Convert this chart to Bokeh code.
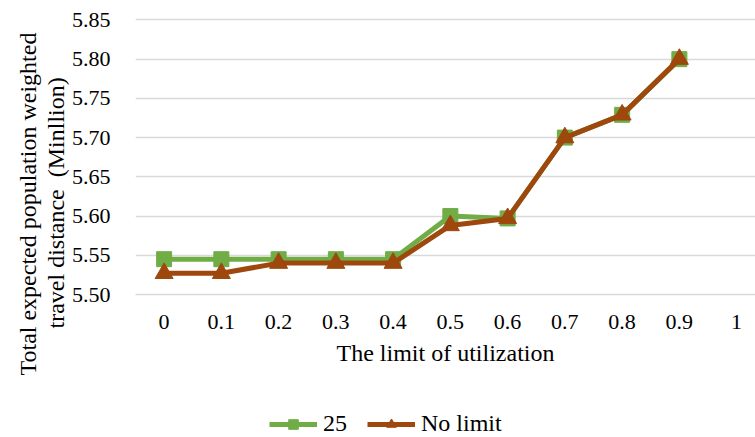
from bokeh.plotting import figure
from bokeh.layouts import column
from bokeh.models import Range1d, FixedTicker, Legend, LegendItem, Title
from bokeh.embed import file_html
from bokeh.resources import INLINE

# Utilization limits along the x axis
categories = ["0", "0.1", "0.2", "0.3", "0.4", "0.5", "0.6", "0.7", "0.8", "0.9", "1"]
# Total expected population weighted travel distance (million)
series_25 = [5.545, 5.545, 5.545, 5.545, 5.545, 5.600, 5.597, 5.700, 5.729, 5.800]
series_no_limit = [5.527, 5.527, 5.540, 5.540, 5.540, 5.588, 5.597, 5.700, 5.729, 5.800]
y_ticks = [5.50, 5.55, 5.60, 5.65, 5.70, 5.75, 5.80, 5.85]
y_title_lines = ["Total expected population weighted", "travel distance \u00a0(Minllion)"]

FONT = "Liberation Serif"
GREEN = "#70AD47"
BROWN = "#9E480E"
LINE_W = 5
NAN = float("nan")

xs = list(range(len(series_25)))

p = figure(width=755, height=400, output_backend="svg", toolbar_location=None,
           x_range=Range1d(-0.5, 10.33), y_range=Range1d(5.50, 5.862),
           min_border_left=135, min_border_right=0, min_border_top=10,
           min_border_bottom=106)
p.outline_line_color = None

# y axis
p.yaxis.ticker = FixedTicker(ticks=y_ticks)
p.yaxis.major_label_overrides = {t: f"{t:.2f}" for t in y_ticks}
p.yaxis.axis_line_color = None
p.yaxis.major_tick_line_color = None
p.yaxis.minor_tick_line_color = None
p.yaxis.major_label_text_font = FONT
p.yaxis.major_label_text_font_size = "22px"
p.yaxis.major_label_text_color = "#000000"
p.yaxis.major_label_standoff = 19

# y axis title: one Title per line, each starting below the frame bottom;
# the inner line is added first so it sits next to the tick labels
for text, offset in [(y_title_lines[1], -34), (y_title_lines[0], -81)]:
    p.add_layout(Title(text=text, align="left", offset=offset, standoff=0,
                       text_font=FONT, text_font_size="24px", text_font_style="normal",
                       text_color="#000000"), "left")

# x axis
p.xaxis.ticker = FixedTicker(ticks=list(range(len(categories))))
p.xaxis.major_label_overrides = {i: c for i, c in enumerate(categories)}
p.xaxis.axis_line_color = "#D9D9D9"
p.xaxis.axis_line_width = 1.5
p.xaxis.major_tick_line_color = None
p.xaxis.minor_tick_line_color = None
p.xaxis.major_label_text_font = FONT
p.xaxis.major_label_text_font_size = "22px"
p.xaxis.major_label_text_color = "#000000"
p.xaxis.major_label_standoff = 14
p.xaxis.axis_label = "The limit of utilization"
p.xaxis.axis_label_text_font = FONT
p.xaxis.axis_label_text_font_size = "24px"
p.xaxis.axis_label_text_font_style = "normal"
p.xaxis.axis_label_text_color = "#000000"
p.xaxis.axis_label_standoff = 8

p.xgrid.grid_line_color = None
p.ygrid.grid_line_color = "#D9D9D9"
p.ygrid.grid_line_width = 1.5

# series
p.line(xs, series_25, line_color=GREEN, line_width=LINE_W)
p.scatter(xs, series_25, marker="square", size=15, fill_color=GREEN, line_color=GREEN)
p.line(xs, series_no_limit, line_color=BROWN, line_width=LINE_W)
p.scatter(xs, series_no_limit, marker="triangle", size=18, fill_color=BROWN, line_color=BROWN)

# legend strip underneath: placeholder renderers (no drawable points) carry the series styles
leg = figure(width=755, height=37, output_backend="svg", toolbar_location=None,
             x_axis_type=None, y_axis_type=None, x_range=Range1d(0, 1), y_range=Range1d(0, 1),
             min_border=0)
leg.outline_line_color = None
leg.xgrid.grid_line_color = None
leg.ygrid.grid_line_color = None
k1 = leg.line([NAN], [NAN], line_color=GREEN, line_width=LINE_W)
s1 = leg.scatter([NAN], [NAN], marker="square", size=15, fill_color=GREEN, line_color=GREEN)
k2 = leg.line([NAN], [NAN], line_color=BROWN, line_width=LINE_W)
s2 = leg.scatter([NAN], [NAN], marker="triangle", size=18, fill_color=BROWN, line_color=BROWN)

# the strip's frame is aligned with the chart frame (left edge at 135px)
legend = Legend(items=[LegendItem(label="25", renderers=[k1, s1]),
                       LegendItem(label="No limit", renderers=[k2, s2])],
                orientation="horizontal", location=(134, 0),
                label_text_font=FONT, label_text_font_size="24px",
                label_text_color="#000000", border_line_color=None,
                background_fill_alpha=0, glyph_width=48, glyph_height=24,
                spacing=20, label_standoff=6, padding=3, margin=0)
leg.add_layout(legend, "center")

open("out.html", "w").write(file_html(column(p, leg, spacing=0), INLINE))
